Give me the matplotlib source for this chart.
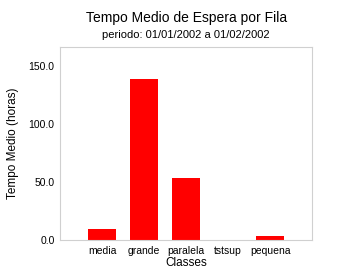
import numpy as np
import matplotlib.pyplot as plt
from matplotlib.ticker import FormatStrFormatter

plt.rcParams['font.family'] = ['Liberation Sans', 'DejaVu Sans']

classes = ["media", "grande", "paralela", "tstsup", "pequena"]
tempo_medio = [9.8, 138.3, 53.0, 0.3, 3.4]
y_ticks = [0, 50, 100, 150]

fig = plt.figure(figsize=(3.62, 2.8), dpi=100)
ax = fig.add_axes([0.166, 0.143, 0.696, 0.689])

pos = np.arange(1, len(classes) + 1)
ax.bar(pos, tempo_medio, width=0.667, color="#ff0000")

ax.set_xlim(0, 6)
ax.set_ylim(0, 166)
ax.set_xticks(pos)
ax.set_xticklabels(classes)
ax.set_yticks(y_ticks)
ax.yaxis.set_major_formatter(FormatStrFormatter("%.1f"))
ax.tick_params(length=0, labelsize=7.5, pad=4)
for s in ax.spines.values():
    s.set_color("#d0d0d0")
    s.set_linewidth(0.8)

ax.set_xlabel("Classes", fontsize=8.5, labelpad=1)
ax.set_ylabel("Tempo Medio (horas)", fontsize=8.5, labelpad=7)

# titles are centred over the plot area, not the figure
ax.text(0.5, 1.148, "Tempo Medio de Espera por Fila", transform=ax.transAxes,
        ha="center", va="center", fontsize=10)
ax.text(0.5, 1.065, "periodo: 01/01/2002 a 01/02/2002", transform=ax.transAxes,
        ha="center", va="center", fontsize=8)

fig.savefig("out.png", dpi=100)
